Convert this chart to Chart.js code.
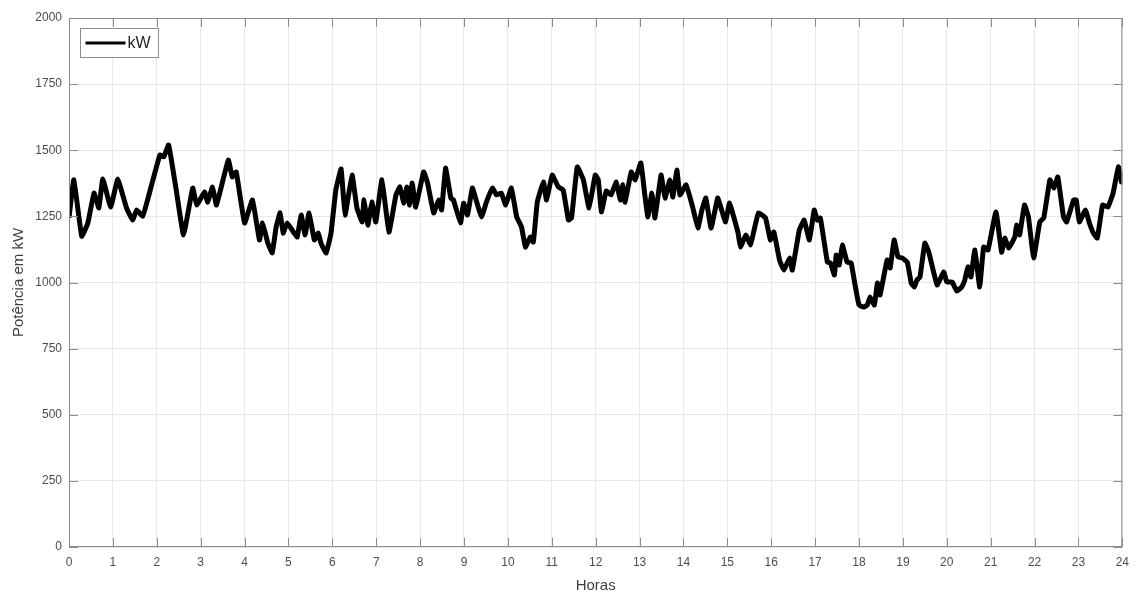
<!DOCTYPE html>
<html lang="pt">
<head>
  <meta charset="UTF-8" />
  <title>Potência em kW - 24 horas</title>
  <script src="https://cdn.jsdelivr.net/npm/chart.js"></script>
  <style>
    body { margin: 0; background: #fff; }
    #wrap { width: 1137px; height: 595px; position: relative; }
  </style>
</head>
<body>
  <div id="wrap"><canvas id="kwChart"></canvas></div>

  <script>
    // leitura da curva (hora, kW)
    const hours = [
      0, 0.11, 0.29, 0.43, 0.57, 0.68, 0.77, 0.95, 1.11, 1.31, 1.45, 1.54, 1.68, 1.79,
      2.07, 2.16, 2.27, 2.45, 2.61, 2.82, 2.91, 3.09, 3.16, 3.27, 3.36, 3.63, 3.72, 3.81,
      4.0, 4.18, 4.34, 4.41, 4.53, 4.63, 4.72, 4.81, 4.88, 4.97, 5.13, 5.2, 5.29, 5.38,
      5.47, 5.59, 5.68, 5.74, 5.86, 5.97, 6.08, 6.2, 6.29, 6.45, 6.56, 6.68, 6.72, 6.81,
      6.9, 6.99, 7.13, 7.29, 7.45, 7.54, 7.63, 7.7, 7.76, 7.82, 7.9, 8.08, 8.17, 8.31,
      8.42, 8.49, 8.58, 8.7, 8.76, 8.92, 8.99, 9.08, 9.19, 9.29, 9.4, 9.51, 9.65, 9.74,
      9.85, 9.95, 10.08, 10.2, 10.31, 10.4, 10.51, 10.58, 10.67, 10.81, 10.88, 11.01, 11.15,
      11.26, 11.38, 11.45, 11.58, 11.72, 11.85, 11.99, 12.06, 12.13, 12.24, 12.35, 12.47,
      12.56, 12.62, 12.67, 12.81, 12.9, 13.03, 13.12, 13.19, 13.28, 13.35, 13.49, 13.58,
      13.69, 13.76, 13.85, 13.92, 14.06, 14.21, 14.33, 14.42, 14.51, 14.63, 14.78, 14.87,
      14.96, 15.05, 15.24, 15.3, 15.42, 15.53, 15.6, 15.71, 15.87, 15.98, 16.06, 16.19,
      16.29, 16.42, 16.48, 16.64, 16.75, 16.87, 16.98, 17.05, 17.12, 17.28, 17.35, 17.44,
      17.48, 17.55, 17.62, 17.73, 17.82, 17.91, 18.0, 18.1, 18.19, 18.25, 18.35, 18.42,
      18.48, 18.64, 18.71, 18.8, 18.89, 18.98, 19.1, 19.19, 19.26, 19.32, 19.39, 19.5,
      19.59, 19.78, 19.93, 20.0, 20.12, 20.23, 20.34, 20.41, 20.48, 20.55, 20.64, 20.75,
      20.84, 20.94, 21.12, 21.25, 21.32, 21.41, 21.55, 21.59, 21.66, 21.77, 21.86, 21.98,
      22.12, 22.21, 22.35, 22.44, 22.53, 22.66, 22.73, 22.89, 22.95, 23.02, 23.16, 23.25,
      23.34, 23.43, 23.55, 23.67, 23.79, 23.91, 23.98, 24.0
    ];
    const kw = [
      1245, 1388, 1175, 1225, 1338, 1282, 1391, 1285, 1391, 1282, 1236, 1274, 1251, 1312,
      1482, 1475, 1520, 1342, 1180, 1357, 1293, 1342, 1304, 1361, 1293, 1463, 1399, 1418,
      1225, 1312, 1161, 1225, 1149, 1112, 1210, 1263, 1187, 1225, 1187, 1172, 1255, 1180,
      1263, 1161, 1187, 1149, 1112, 1187, 1350, 1429, 1255, 1406, 1282, 1229, 1312, 1217,
      1304, 1229, 1388, 1191, 1331, 1361, 1300, 1361, 1293, 1376, 1285, 1418, 1376, 1263,
      1312, 1274, 1433, 1319, 1312, 1225, 1300, 1255, 1357, 1304, 1248, 1304, 1357, 1331,
      1338, 1293, 1357, 1248, 1210, 1134, 1172, 1153, 1304, 1380, 1312, 1406, 1361,
      1350, 1236, 1244, 1437, 1388, 1282, 1406, 1388, 1267, 1346, 1331, 1380,
      1312, 1369, 1304, 1418, 1388, 1452, 1331, 1248, 1338, 1244, 1406, 1319,
      1388, 1323, 1425, 1331, 1369, 1285, 1206, 1274, 1319, 1206, 1319, 1274,
      1229, 1300, 1191, 1134, 1180, 1142, 1191, 1263, 1244, 1161, 1191, 1085,
      1047, 1093, 1047, 1198, 1236, 1161, 1274, 1236, 1244, 1077, 1074, 1028,
      1104, 1066, 1142, 1077, 1074, 991, 915, 907, 915, 945, 915, 998,
      953, 1085, 1055, 1161, 1096, 1093, 1077, 998, 983, 1009, 1021, 1149,
      1115, 991, 1040, 1002, 1002, 968, 983, 1009, 1059, 1021, 1123, 983,
      1134, 1123, 1267, 1115, 1168, 1130, 1172, 1217, 1180, 1293, 1248, 1093,
      1229, 1244, 1388, 1357, 1399, 1248, 1229, 1312, 1312, 1229, 1274, 1225,
      1187, 1168, 1293, 1285, 1338, 1437, 1380, 1418
    ];
    const seriesLabel = 'kW';
    const xTitle = 'Horas';
    const yTitle = 'Potência em kW';

    const points = hours.map((h, i) => ({ x: h, y: kw[i] }));
    const fontFamily = '"Liberation Sans", Arial, sans-serif';

    // caixa, marcas internas e legenda no estilo MATLAB
    const matlabBox = {
      id: 'matlabBox',
      afterDatasetsDraw(chart) {
        const { ctx, chartArea: a, scales } = chart;
        ctx.save();
        ctx.strokeStyle = '#8c8c8c';
        ctx.lineWidth = 1;
        ctx.strokeRect(a.left + 0.5, a.top + 0.5, a.right - a.left - 1, a.bottom - a.top - 1);
        const len = 9;
        ctx.beginPath();
        scales.x.ticks.forEach(t => {
          const px = Math.round(scales.x.getPixelForValue(t.value)) + 0.5;
          ctx.moveTo(px, a.bottom); ctx.lineTo(px, a.bottom - len);
          ctx.moveTo(px, a.top); ctx.lineTo(px, a.top + len);
        });
        scales.y.ticks.forEach(t => {
          const py = Math.round(scales.y.getPixelForValue(t.value)) + 0.5;
          ctx.moveTo(a.left, py); ctx.lineTo(a.left + len, py);
          ctx.moveTo(a.right, py); ctx.lineTo(a.right - len, py);
        });
        ctx.stroke();

        // legenda
        const ds = chart.data.datasets[0];
        const bx = a.left + 11.5, by = a.top + 10.5, bw = 78, bh = 29;
        ctx.fillStyle = '#fff';
        ctx.fillRect(bx, by, bw, bh);
        ctx.strokeStyle = '#8c8c8c';
        ctx.strokeRect(bx, by, bw, bh);
        ctx.strokeStyle = ds.borderColor;
        ctx.lineWidth = 3;
        ctx.beginPath();
        ctx.moveTo(bx + 5, by + bh / 2);
        ctx.lineTo(bx + 45, by + bh / 2);
        ctx.stroke();
        ctx.fillStyle = '#262626';
        ctx.font = '16px ' + fontFamily;
        ctx.textBaseline = 'middle';
        ctx.fillText(ds.label, bx + 47, by + bh / 2 + 1);
        ctx.restore();
      }
    };

    new Chart(document.getElementById('kwChart'), {
      type: 'line',
      data: {
        datasets: [{
          label: seriesLabel,
          data: points,
          borderColor: '#000',
          borderWidth: 5,
          pointRadius: 0,
          tension: 0.1,
          fill: false
        }]
      },
      options: {
        responsive: true,
        maintainAspectRatio: false,
        animation: false,
        layout: { padding: { top: 18, right: 10, left: 0, bottom: 0 } },
        plugins: {
          legend: { display: false },
          tooltip: { enabled: false }
        },
        scales: {
          x: {
            type: 'linear',
            min: 0,
            max: 24,
            afterFit: s => { s.height = 48; },
            ticks: {
              stepSize: 1,
              padding: 8,
              color: '#4d4d4d',
              font: { family: fontFamily, size: 12 }
            },
            grid: { color: '#e8e8e8', drawTicks: false },
            border: { display: false },
            title: {
              display: true,
              text: xTitle,
              color: '#404040',
              padding: { top: 4, bottom: 0 },
              font: { family: fontFamily, size: 15 }
            }
          },
          y: {
            min: 0,
            max: 2000,
            afterFit: s => { s.width = 69; },
            ticks: {
              stepSize: 250,
              padding: 7,
              color: '#4d4d4d',
              font: { family: fontFamily, size: 12 },
              callback: v => String(v)
            },
            grid: { color: '#e8e8e8', drawTicks: false },
            border: { display: false },
            title: {
              display: true,
              text: yTitle,
              color: '#404040',
              padding: { top: 10, bottom: 0 },
              font: { family: fontFamily, size: 15 }
            }
          }
        }
      },
      plugins: [matlabBox]
    });
  </script>
</body>
</html>
